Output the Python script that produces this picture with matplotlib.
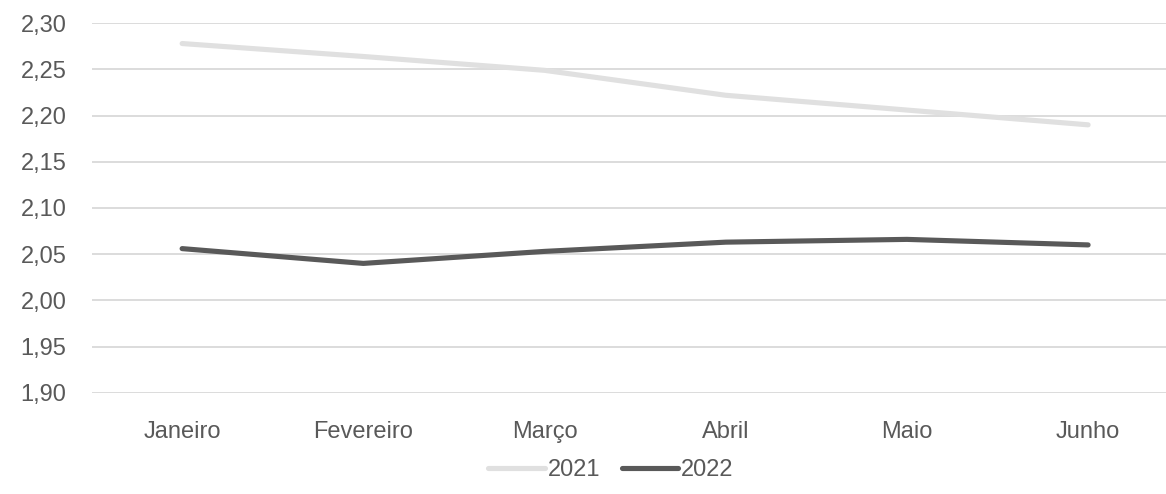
import matplotlib.pyplot as plt
from matplotlib.ticker import FuncFormatter

months = ['Janeiro', 'Fevereiro', 'Março', 'Abril', 'Maio', 'Junho']
v2021 = [2.278, 2.264, 2.249, 2.222, 2.206, 2.190]
v2022 = [2.056, 2.040, 2.053, 2.063, 2.066, 2.060]

plt.rcParams['font.family'] = ['Liberation Sans', 'DejaVu Sans']
txt = '#595959'
grid = '#d9d9d9'

fig = plt.figure(figsize=(11.66, 4.94), dpi=100)
ax = fig.add_axes([0.0785, 0.205, 0.9324, 0.748])

x = range(len(months))
ax.plot(x, v2021, color='#e0e0e0', lw=3.7, solid_capstyle='round', label='2021', zorder=3)
ax.plot(x, v2022, color='#595959', lw=3.7, solid_capstyle='round', label='2022', zorder=3)

ax.set_xlim(-0.5, 5.5)
ax.set_ylim(1.90, 2.30)
ax.set_yticks([1.90 + 0.05 * i for i in range(9)])
ax.yaxis.set_major_formatter(FuncFormatter(lambda v, p: f'{v:.2f}'.replace('.', ',')))
ax.set_xticks(list(x))
ax.set_xticklabels(months)
ax.grid(axis='y', color=grid, lw=1.3)
ax.set_axisbelow(True)
for s in ax.spines.values():
    s.set_visible(False)
ax.tick_params(length=0, labelsize=17, colors=txt)
ax.tick_params(axis='x', pad=20)
ax.tick_params(axis='y', pad=18)

leg = fig.legend(loc='center', bbox_to_anchor=(0.524, 0.048), ncol=2, frameon=False,
                 fontsize=17, handlelength=2.4, handletextpad=0.12, columnspacing=0.9)
for t in leg.get_texts():
    t.set_color(txt)

fig.savefig('out.png', dpi=100)
